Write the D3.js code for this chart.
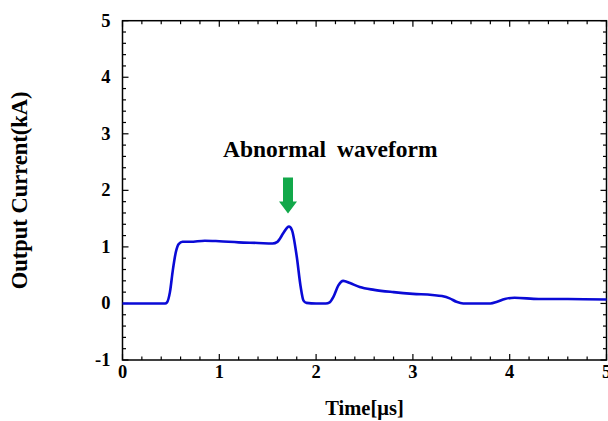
<!DOCTYPE html>
<html>
<head>
<meta charset="utf-8">
<script src="https://cdn.jsdelivr.net/npm/d3@7"></script>
<style>
  body { margin: 0; background: #fff; }
  text { font-family: "Liberation Serif", "Times New Roman", serif; font-weight: bold; }
</style>
</head>
<body>
<script>
// time in microseconds, current in kA
var timeUs = [0, 0.40, 0.44, 0.46, 0.49, 0.52, 0.55, 0.58, 0.62, 0.70, 0.85, 1.00, 1.20, 1.40, 1.55, 1.60, 1.66, 1.70, 1.72, 1.75, 1.80, 1.84, 1.87, 1.90, 2.00, 2.10, 2.14, 2.18, 2.23, 2.28, 2.35, 2.45, 2.60, 2.80, 3.00, 3.20, 3.30, 3.38, 3.45, 3.52, 3.60, 3.80, 3.87, 3.95, 4.05, 4.30, 4.60, 5.00];
var currentKA = [0, 0, 0, 0.02, 0.2, 0.59, 0.9, 1.05, 1.09, 1.09, 1.11, 1.10, 1.08, 1.07, 1.06, 1.09, 1.24, 1.34, 1.36, 1.30, 0.83, 0.30, 0.05, 0.01, 0, 0, 0.02, 0.12, 0.32, 0.40, 0.36, 0.29, 0.24, 0.20, 0.17, 0.15, 0.13, 0.09, 0.03, 0, 0, 0, 0.03, 0.08, 0.10, 0.08, 0.08, 0.07];
var xTicks = [0, 1, 2, 3, 4, 5];
var yTicks = [-1, 0, 1, 2, 3, 4, 5];

var width = 608, height = 421;
var margin = { top: 20.7, right: 1.5, bottom: 61, left: 122.5 };

var svg = d3.select("body").append("svg")
  .attr("width", width)
  .attr("height", height);

var x = d3.scaleLinear().domain([0, 5]).range([margin.left, width - margin.right]);
var y = d3.scaleLinear().domain([-1, 5]).range([height - margin.bottom, margin.top]);

var minorX = d3.range(0, 5.001, 0.2), minorY = d3.range(-1, 5.001, 0.2);

function isMajor(v) { return Math.abs(v - Math.round(v)) < 1e-6; }

// ticks, all pointing inward
var ticks = svg.append("g").attr("stroke", "#000").attr("stroke-width", 1.2);
minorX.forEach(function(v) {
  var len = isMajor(v) ? 6 : 3.5;
  ticks.append("line").attr("x1", x(v)).attr("x2", x(v)).attr("y1", y(-1)).attr("y2", y(-1) - len);
  ticks.append("line").attr("x1", x(v)).attr("x2", x(v)).attr("y1", y(5)).attr("y2", y(5) + len);
});
minorY.forEach(function(v) {
  var len = isMajor(v) ? 6 : 3.5;
  ticks.append("line").attr("y1", y(v)).attr("y2", y(v)).attr("x1", x(0)).attr("x2", x(0) + len);
  ticks.append("line").attr("y1", y(v)).attr("y2", y(v)).attr("x1", x(5)).attr("x2", x(5) - len);
});

svg.append("rect")
  .attr("x", x(0)).attr("y", y(5))
  .attr("width", x(5) - x(0)).attr("height", y(-1) - y(5))
  .attr("fill", "none").attr("stroke", "#000").attr("stroke-width", 1.5);

svg.append("g").selectAll("text").data(xTicks).enter().append("text")
  .attr("x", function(d) { return x(d); })
  .attr("y", y(-1) + 18)
  .attr("text-anchor", "middle")
  .attr("font-size", 18.5)
  .text(function(d) { return d; });

svg.append("g").selectAll("text").data(yTicks).enter().append("text")
  .attr("x", x(0) - 12)
  .attr("y", function(d) { return y(d) + 6; })
  .attr("text-anchor", "end")
  .attr("font-size", 18.5)
  .text(function(d) { return d; });

svg.append("text")
  .attr("transform", "translate(27," + ((y(5) + y(-1)) / 2) + ") rotate(-90)")
  .attr("text-anchor", "middle")
  .attr("font-size", 22.5)
  .text("Output Current(kA)");

svg.append("text")
  .attr("x", (x(0) + x(5)) / 2)
  .attr("y", 415)
  .attr("text-anchor", "middle")
  .attr("font-size", 20.5)
  .text("Time[μs]");

var line = d3.line()
  .x(function(d) { return x(d[0]); })
  .y(function(d) { return y(d[1]); })
  .curve(d3.curveMonotoneX);

svg.append("path")
  .datum(d3.zip(timeUs, currentKA))
  .attr("d", line)
  .attr("fill", "none")
  .attr("stroke", "#0a0ad6")
  .attr("stroke-width", 2.6)
  .attr("stroke-linejoin", "round");

// annotation
svg.append("text")
  .attr("x", 223)
  .attr("y", 157)
  .attr("font-size", 23.5)
  .attr("word-spacing", 5)
  .text("Abnormal waveform");

var ax = 288;
svg.append("path")
  .attr("d", "M" + (ax - 5) + ",177.5 L" + (ax + 5) + ",177.5 L" + (ax + 5) + ",201.5 L" + (ax + 9) + ",201.5 L" + ax + ",213.5 L" + (ax - 9) + ",201.5 L" + (ax - 5) + ",201.5 Z")
  .attr("fill", "#12a84a");
</script>
</body>
</html>
